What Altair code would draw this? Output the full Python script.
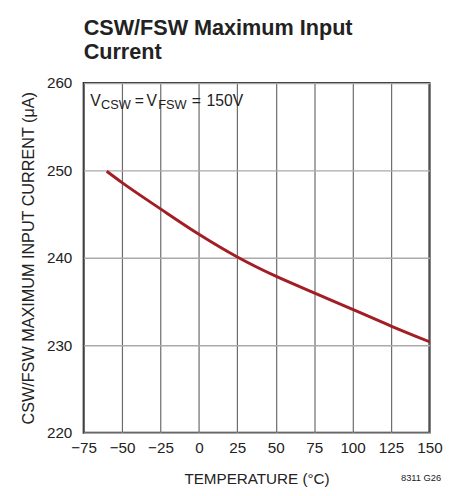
import altair as alt
import pandas as pd

temps = [-60, -50, -25, 0, 25, 50, 75, 100, 125, 150]
current = [249.9, 248.6, 245.6, 242.7, 240.1, 237.9, 236.0, 234.1, 232.2, 230.4]
x_ticks = [-75, -50, -25, 0, 25, 50, 75, 100, 125, 150]
y_ticks = [220, 230, 240, 250, 260]

df = pd.DataFrame({"t": temps, "i": current})
one = pd.DataFrame({"k": [0]})
FONT = "Liberation Sans"

xaxis = alt.Axis(values=x_ticks, title="TEMPERATURE (°C)", grid=True, gridColor="#6a6a6a",
                 gridWidth=1.2, ticks=False, domain=False, labelFont=FONT, labelFontSize=15.5,
                 labelColor="#222", labelPadding=8, titleFont=FONT, titleFontSize=15.5,
                 titleFontWeight="normal", titleColor="#222", titlePadding=16, labelFlush=False)
yaxis = alt.Axis(values=y_ticks, title="CSW/FSW MAXIMUM INPUT CURRENT (μA)", grid=True,
                 gridColor="#aaaaaa", gridWidth=1.5, ticks=False, domain=False, labelFont=FONT,
                 labelFontSize=15.5, labelColor="#222", labelPadding=12, titleFont=FONT,
                 titleFontSize=16.5, titleFontWeight="normal", titleColor="#222", titlePadding=10)

line = alt.Chart(df).mark_line(color="#a31d25", strokeWidth=3, interpolate="monotone").encode(
    x=alt.X("t:Q", scale=alt.Scale(domain=[-75, 150], nice=False), axis=xaxis),
    y=alt.Y("i:Q", scale=alt.Scale(domain=[220, 260], nice=False), axis=yaxis),
)

pieces = [
    ("V", 6.7, 23.3, 16),
    ("CSW", 17.7, 26.7, 13),
    ("=", 52, 23.3, 16),
    ("V", 64, 23.3, 16),
    ("FSW", 76, 26.7, 13),
    ("=", 110, 23.3, 16),
    ("150V", 125, 23.3, 16),
]
layers = [line]
for txt, px, py, fs in pieces:
    layers.append(
        alt.Chart(one).mark_text(text=txt, font=FONT, fontSize=fs, fontWeight="normal", align="left",
                                 baseline="alphabetic", color="#222").encode(x=alt.value(px), y=alt.value(py))
    )
layers.append(
    alt.Chart(one).mark_text(text="8311 G26", font=FONT, fontSize=9.5, fontWeight="normal", align="left",
                             baseline="alphabetic", color="#222").encode(x=alt.value(323), y=alt.value(405))
)

chart = alt.layer(*layers).properties(
    width=352, height=356,
    padding={"left": 77, "top": 72, "right": 25, "bottom": 52},
    autosize=alt.AutoSizeParams(type="none"),
    title=alt.TitleParams(["CSW/FSW Maximum Input", "Current"], anchor="start", frame="group",
                          font=FONT, fontSize=22, fontWeight="bold", lineHeight=25, color="#222",
                          offset=12),
).configure_view(stroke="#222", strokeWidth=2)

chart.save("out.html", embed_options={"renderer": "svg", "actions": False})
